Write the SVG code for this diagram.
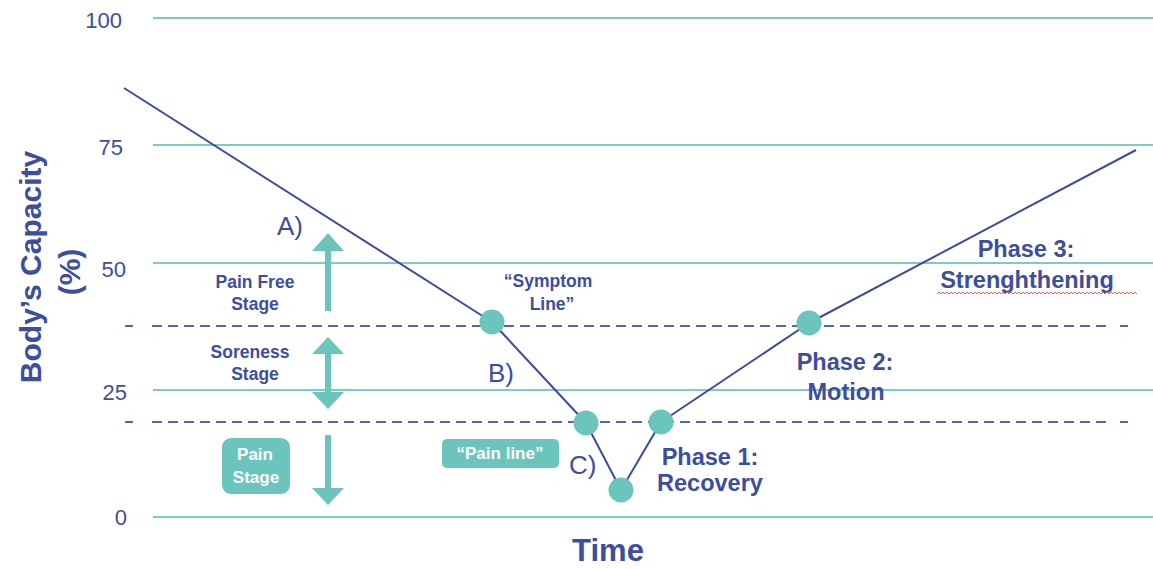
<svg xmlns="http://www.w3.org/2000/svg" width="1153" height="569" viewBox="0 0 1153 569">
<style>
.grid{stroke:#7ccbc4;stroke-width:2;fill:none}
.dash{stroke:#5866a8;stroke-width:2;fill:none;stroke-dasharray:10 6}
.dashs{stroke:#5866a8;stroke-width:2;fill:none}
.curve{stroke:#3c4b9c;stroke-width:2;fill:none;stroke-linejoin:round}
.dot{fill:#6cc5bd}
.teal{fill:#6cc5bd}
.tick{font-family:"Liberation Sans",Arial,sans-serif;font-size:22px;fill:#3d4e9e;text-anchor:end}
.letter{font-family:"Liberation Sans",Arial,sans-serif;font-size:26px;fill:#3d4e9e}
.small{font-family:"Liberation Sans",Arial,sans-serif;font-size:17.5px;font-weight:bold;fill:#3d4e9e;text-anchor:middle}
.smallw{font-family:"Liberation Sans",Arial,sans-serif;font-size:17px;font-weight:bold;fill:#ffffff;text-anchor:middle}
.phase{font-family:"Liberation Sans",Arial,sans-serif;font-size:23.5px;font-weight:bold;fill:#3d4e9e;text-anchor:middle}
.axis{font-family:"Liberation Sans",Arial,sans-serif;font-weight:bold;fill:#3d4e9e;text-anchor:middle}
</style>
<rect width="1153" height="569" fill="#ffffff"/>
<g id="gridlines">
<line class="grid" x1="153" y1="18" x2="1153" y2="18"/>
<line class="grid" x1="153" y1="145" x2="1153" y2="145"/>
<line class="grid" x1="153" y1="263" x2="1153" y2="263"/>
<line class="grid" x1="153" y1="390" x2="1153" y2="390"/>
<line class="grid" x1="153" y1="517" x2="1153" y2="517"/>
</g>
<g id="tick-labels">
<text class="tick" x="122" y="28">100</text>
<text class="tick" x="123" y="155">75</text>
<text class="tick" x="126" y="277">50</text>
<text class="tick" x="127" y="400">25</text>
<text class="tick" x="127" y="525">0</text>
</g>
<g id="threshold-lines">
<line class="dashs" x1="125" y1="326" x2="133" y2="326"/>
<line class="dash" x1="152" y1="326" x2="1108" y2="326"/>
<line class="dashs" x1="1120" y1="326" x2="1128" y2="326"/>
<line class="dashs" x1="125" y1="422" x2="133" y2="422"/>
<line class="dash" x1="152" y1="422" x2="1108" y2="422"/>
<line class="dashs" x1="1120" y1="422" x2="1128" y2="422"/>
</g>
<g id="axis-titles">
<text class="axis" font-size="30" transform="translate(41,267) rotate(-90)">Body’s Capacity</text>
<text class="axis" font-size="30" transform="translate(80,272) rotate(-90)">(%)</text>
<text class="axis" font-size="31" x="608" y="561">Time</text>
</g>
<g id="connectors">
<polyline class="curve" points="124,88 492,322 586,423 621,490 661,422 809,323 1136,150"/>
</g>
<g id="stage-arrows">
<path class="teal" d="M328,233 L344,251 L331,251 L331,311 L325,311 L325,251 L312,251 Z"/>
<path class="teal" d="M328,337 L344,354 L331,354 L331,392 L344,392 L328,409 L312,392 L325,392 L325,354 L312,354 Z"/>
<path class="teal" d="M325,435 L331,435 L331,488 L344,488 L328,505 L312,488 L325,488 Z"/>
</g>
<g id="pain-free-stage">
<text class="small" x="255" y="288">Pain Free</text>
<text class="small" x="255" y="310">Stage</text>
</g>
<g id="soreness-stage">
<text class="small" x="250" y="358">Soreness</text>
<text class="small" x="255" y="380">Stage</text>
</g>
<g id="pain-stage">
<rect class="teal" x="222" y="438" width="68" height="56" rx="9"/>
<text class="smallw" x="255" y="460">Pain</text>
<text class="smallw" x="256" y="483">Stage</text>
</g>
<g id="label-a"><text class="letter" x="277" y="235">A)</text></g>
<g id="label-b"><text class="letter" x="488" y="382">B)</text></g>
<g id="label-c"><text class="letter" x="569" y="474">C)</text></g>
<g id="symptom-line">
<circle class="dot" cx="492" cy="322" r="12.5"/>
<text class="small" x="548" y="287">“Symptom</text>
<text class="small" x="552" y="310">Line”</text>
</g>
<g id="pain-line">
<circle class="dot" cx="586" cy="423" r="12.5"/>
<rect class="teal" x="442" y="439" width="117" height="29" rx="5"/>
<text class="smallw" x="500" y="459">“Pain line”</text>
</g>
<g id="bottom-point">
<circle class="dot" cx="621" cy="490" r="12.5"/>
</g>
<g id="phase-1">
<circle class="dot" cx="661" cy="422" r="12.5"/>
<text class="phase" x="710" y="465">Phase 1:</text>
<text class="phase" x="710" y="491">Recovery</text>
</g>
<g id="phase-2">
<circle class="dot" cx="809" cy="323" r="12.5"/>
<text class="phase" x="845" y="370">Phase 2:</text>
<text class="phase" x="846" y="400">Motion</text>
</g>
<g id="phase-3">
<text class="phase" x="1026" y="257">Phase 3:</text>
<text class="phase" x="1027" y="288">Strenghthening</text>
<path d="M937,294 l2,-2 l2,2 l2,-2 l2,2 l2,-2 l2,2 l2,-2 l2,2 l2,-2 l2,2 l2,-2 l2,2 l2,-2 l2,2 l2,-2 l2,2 l2,-2 l2,2 l2,-2 l2,2 l2,-2 l2,2 l2,-2 l2,2 l2,-2 l2,2 l2,-2 l2,2 l2,-2 l2,2 l2,-2 l2,2 l2,-2 l2,2 l2,-2 l2,2 l2,-2 l2,2 l2,-2 l2,2 l2,-2 l2,2 l2,-2 l2,2 l2,-2 l2,2 l2,-2 l2,2 l2,-2 l2,2 l2,-2 l2,2 l2,-2 l2,2 l2,-2 l2,2 l2,-2 l2,2 l2,-2 l2,2 l2,-2 l2,2 l2,-2 l2,2 l2,-2 l2,2 l2,-2 l2,2 l2,-2 l2,2 l2,-2 l2,2 l2,-2 l2,2 l2,-2 l2,2 l2,-2 l2,2 l2,-2 l2,2 l2,-2 l2,2 l2,-2 l2,2 l2,-2 l2,2 l2,-2 l2,2 l2,-2 l2,2 l2,-2 l2,2 l2,-2 l2,2 l2,-2 l2,2 l2,-2 l2,2 l2,-2 l2,2" fill="none" stroke="#e06a55" stroke-width="1"/>
</g>
</svg>
